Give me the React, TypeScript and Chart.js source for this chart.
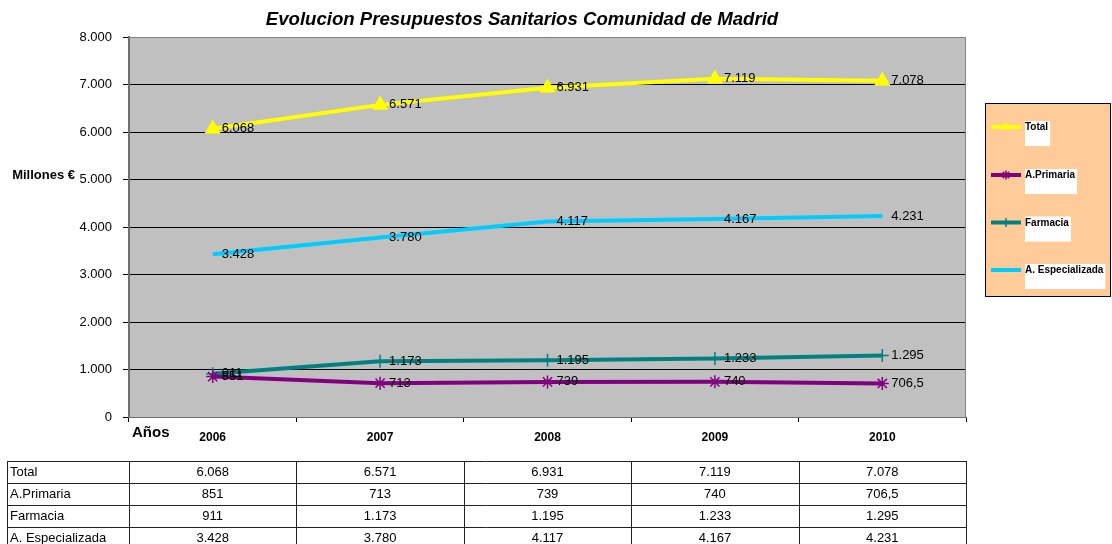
import React, { useEffect, useRef } from 'react';
import { Chart, registerables } from 'chart.js';

Chart.register(...registerables);

// ---------- data ----------
const years = ['2006', '2007', '2008', '2009', '2010'];
const seriesNames = ['Total', 'A.Primaria', 'Farmacia', 'A. Especializada'];
const total = [6068, 6571, 6931, 7119, 7078];
const primaria = [851, 713, 739, 740, 706.5];
const farmacia = [911, 1173, 1195, 1233, 1295];
const especializada = [3428, 3780, 4117, 4167, 4231];
const yMin = 0;
const yMax = 8000;
const yStep = 1000;
const chartTitle = 'Evolucion Presupuestos Sanitarios Comunidad de Madrid';
const yAxisTitle = 'Millones €';
const xAxisTitle = 'Años';

const seriesColors = ['#FFFF00', '#800080', '#008080', '#00CCFF'];
const seriesMarkers: any[] = ['triangle', 'star', 'cross', false];

const FONT = '"Liberation Sans", Arial, Helvetica, sans-serif';

function fmt(v: number): string {
  const neg = v < 0;
  const parts = Math.abs(v).toString().split('.');
  const grouped = parts[0].replace(/\B(?=(\d{3})+(?!\d))/g, '.');
  return (neg ? '-' : '') + grouped + (parts[1] ? ',' + parts[1] : '');
}

const seriesData = [total, primaria, farmacia, especializada];

const decorPlugin = {
  id: 'decor',
  beforeDraw(chart: any) {
    const { ctx, chartArea: a } = chart;
    ctx.save();
    ctx.fillStyle = '#ffffff';
    ctx.fillRect(0, 0, chart.width, chart.height);
    ctx.fillStyle = '#C0C0C0';
    ctx.fillRect(a.left, a.top, a.right - a.left, a.bottom - a.top);
    ctx.restore();
  },
  beforeDatasetsDraw(chart: any) {
    const { ctx, chartArea: a } = chart;
    ctx.save();
    ctx.strokeStyle = '#808080';
    ctx.lineWidth = 1;
    ctx.beginPath();
    ctx.moveTo(a.left, a.top + 0.5);
    ctx.lineTo(a.right - 0.5, a.top + 0.5);
    ctx.lineTo(a.right - 0.5, a.bottom);
    ctx.stroke();
    ctx.restore();
  },
  afterDatasetsDraw(chart: any) {
    const { ctx } = chart;
    ctx.save();
    ctx.font = `13px ${FONT}`;
    ctx.fillStyle = '#000';
    ctx.textAlign = 'left';
    ctx.textBaseline = 'middle';
    chart.data.datasets.forEach((ds: any, di: number) => {
      const meta = chart.getDatasetMeta(di);
      meta.data.forEach((pt: any, i: number) => {
        ctx.fillText(fmt(ds.data[i]), pt.x + 9, pt.y);
      });
    });
    ctx.restore();
  },
  afterDraw(chart: any) {
    const { ctx, chartArea: a } = chart;
    const xs = chart.scales.x;
    ctx.save();

    // title
    ctx.fillStyle = '#000';
    ctx.font = `italic bold 18.6px ${FONT}`;
    ctx.textAlign = 'center';
    ctx.textBaseline = 'middle';
    ctx.fillText(chartTitle, 522, 20);

    // y axis title
    ctx.font = `bold 13px ${FONT}`;
    ctx.textAlign = 'right';
    ctx.fillText(yAxisTitle, 75, 175);

    // x axis title
    ctx.font = `bold 15px ${FONT}`;
    ctx.textAlign = 'left';
    ctx.fillText(xAxisTitle, 132, 433);

    // legend
    const lx = 985, ly = 103, lw = 125, lh = 193;
    ctx.fillStyle = '#FFCC99';
    ctx.fillRect(lx, ly, lw, lh);
    ctx.strokeStyle = '#000';
    ctx.lineWidth = 1;
    ctx.strokeRect(lx + 0.5, ly + 0.5, lw, lh);
    const itemYs = [127, 175, 222.5, 270];
    seriesNames.forEach((name, i) => {
      const y = itemYs[i];
      const cx = 1006;
      ctx.strokeStyle = seriesColors[i];
      ctx.lineWidth = 4;
      ctx.beginPath();
      ctx.moveTo(991, y);
      ctx.lineTo(1021, y);
      ctx.stroke();
      const style = seriesMarkers[i];
      ctx.fillStyle = seriesColors[i];
      ctx.strokeStyle = seriesColors[i];
      ctx.lineWidth = 1.5;
      ctx.beginPath();
      if (style === 'triangle') {
        const r = 5;
        ctx.moveTo(cx, y - r);
        ctx.lineTo(cx + r * 0.866, y + r / 2);
        ctx.lineTo(cx - r * 0.866, y + r / 2);
        ctx.closePath();
        ctx.fill();
      } else if (style === 'star') {
        const r = 4.5;
        ctx.moveTo(cx, y - r); ctx.lineTo(cx, y + r);
        ctx.moveTo(cx - r * 0.7, y - r * 0.7); ctx.lineTo(cx + r * 0.7, y + r * 0.7);
        ctx.moveTo(cx + r * 0.7, y - r * 0.7); ctx.lineTo(cx - r * 0.7, y + r * 0.7);
        ctx.stroke();
      } else if (style === 'cross') {
        const r = 4.5;
        ctx.moveTo(cx, y - r); ctx.lineTo(cx, y + r);
        ctx.stroke();
      }
      ctx.font = `bold 10px ${FONT}`;
      const tw = ctx.measureText(name).width;
      ctx.fillStyle = '#fff';
      ctx.fillRect(1025, y - 6, tw + 2, 25);
      ctx.fillStyle = '#000';
      ctx.textAlign = 'left';
      ctx.textBaseline = 'middle';
      ctx.fillText(name, 1025, y + 0.5);
    });

    // data table
    const tLeft = 7;
    const tTop = 461;
    const rowH = 22;
    const half = (xs.getPixelForValue(1) - xs.getPixelForValue(0)) / 2;
    const colEdges = [tLeft, a.left];
    years.forEach((_, i) => colEdges.push(xs.getPixelForValue(i) + half));
    const tRight = colEdges[colEdges.length - 1];
    ctx.strokeStyle = '#222';
    ctx.lineWidth = 1;
    ctx.beginPath();
    for (let r = 0; r <= seriesNames.length; r++) {
      const y = Math.round(tTop + r * rowH) + 0.5;
      ctx.moveTo(tLeft, y);
      ctx.lineTo(tRight, y);
    }
    colEdges.forEach((x) => {
      const xx = Math.round(x) + 0.5;
      ctx.moveTo(xx, tTop);
      ctx.lineTo(xx, tTop + seriesNames.length * rowH);
    });
    ctx.stroke();
    ctx.font = `13px ${FONT}`;
    ctx.fillStyle = '#000';
    ctx.textBaseline = 'middle';
    seriesNames.forEach((name, r) => {
      const cy = tTop + r * rowH + rowH / 2 + 0.5;
      ctx.textAlign = 'left';
      ctx.fillText(name, tLeft + 3, cy);
      ctx.textAlign = 'center';
      seriesData[r].forEach((v, i) => {
        ctx.fillText(fmt(v), xs.getPixelForValue(i), cy);
      });
    });

    ctx.restore();
  },
};

export default function App() {
  const ref = useRef<HTMLCanvasElement | null>(null);
  useEffect(() => {
    document.body.style.margin = '0';
    const canvas = ref.current;
    if (!canvas) return;
    const chart = new Chart(canvas, {
      type: 'line',
      data: {
        labels: years,
        datasets: seriesNames.map((name, i) => ({
          label: name,
          data: seriesData[i],
          borderColor: seriesColors[i],
          backgroundColor: seriesColors[i],
          borderWidth: 4,
          pointStyle: seriesMarkers[i] || 'circle',
          pointRadius: seriesMarkers[i] ? (i === 0 ? 8.5 : 6.5) : 0,
          pointHoverRadius: seriesMarkers[i] ? 7 : 0,
          pointBorderWidth: i === 0 ? 1 : 1.5,
          pointBorderColor: seriesColors[i],
          pointBackgroundColor: seriesColors[i],
          tension: 0,
          fill: false,
        })),
      },
      options: {
        responsive: false,
        animation: false,
        events: [],
        layout: { padding: { top: 37, right: 146, left: 0, bottom: 0 } },
        plugins: {
          legend: { display: false },
          title: { display: false },
          tooltip: { enabled: false },
        },
        scales: {
          x: {
            type: 'category',
            offset: true,
            grid: {
              offset: true,
              drawOnChartArea: false,
              tickLength: 5,
              color: '#000',
              tickColor: '#000',
              lineWidth: 1,
            },
            border: { color: '#707070', width: 1 },
            ticks: {
              font: { family: FONT, size: 12, weight: 'bold' },
              color: '#000',
              padding: 8,
              maxRotation: 0,
              autoSkip: false,
            },
            afterFit: (s: any) => { s.height = 127; },
          },
          y: {
            min: yMin,
            max: yMax,
            ticks: {
              stepSize: yStep,
              callback: (v: any) => fmt(Number(v)),
              font: { family: FONT, size: 13 },
              color: '#000',
              padding: 11,
            },
            grid: {
              color: (c: any) => (c.tick && (c.tick.value === yMin || c.tick.value === yMax)) ? 'rgba(0,0,0,0)' : '#000',
              tickColor: '#000',
              tickLength: 6,
              lineWidth: 1,
            },
            border: { color: '#707070', width: 2 },
            afterFit: (s: any) => { s.width = 129; },
          },
        },
      } as any,
      plugins: [decorPlugin],
    });
    return () => chart.destroy();
  }, []);
  return (
    <canvas
      ref={ref}
      width={1112}
      height={544}
      style={{ display: 'block', width: '1112px', height: '544px' }}
    />
  );
}
